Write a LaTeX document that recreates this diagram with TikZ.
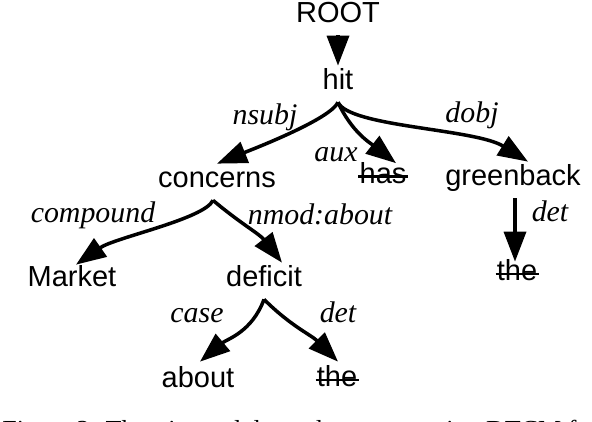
\documentclass[tikz,border=0pt]{standalone}
\usepackage{fontspec}
\setmainfont{Liberation Serif}
\setsansfont{Liberation Sans}
\usetikzlibrary{arrows.meta,calc}

\begin{document}
\begin{tikzpicture}[x=0.02cm, y=0.02cm,
  word/.style={font=\sffamily\fontsize{16.5}{18}\selectfont, inner sep=0pt,
    anchor=base, text height=0.48cm, text depth=0.24cm},
  rel/.style={font=\itshape\fontsize{17}{19}\selectfont, inner sep=0pt, anchor=base},
  dep/.style={line width=2pt, -{Triangle[length=0.6cm, width=0.44cm]}},
  cut/.style={line width=1.2pt}]
  \useasboundingbox (0,0) rectangle (592,422);

  % words of the tree
  \node[word] (root) at (338,399) {ROOT};
  \node[word] (hit) at (338,332) {hit};
  \node[word] (concerns) at (217,234) {concerns};
  \node[word] (has) at (383,238.5) {has};
  \node[word] (greenback) at (513,236) {greenback};
  \node[word] (market) at (72,135) {Market};
  \node[word] (deficit) at (264,135) {deficit};
  \node[word] (the1) at (517,141) {the};
  \node[word] (about) at (198,34) {about};
  \node[word] (the2) at (337,35) {the};

  % trimmed words are struck out
  \draw[cut] ($(has.base west)+(-1,7)$) -- ($(has.base east)+(1,7)$);
  \draw[cut] ($(the1.base west)+(-1,7)$) -- ($(the1.base east)+(1,7)$);
  \draw[cut] ($(the2.base west)+(-1,7)$) -- ($(the2.base east)+(1,7)$);

  % dependencies
  \draw[dep] (root.south) -- (hit.north);
  \draw[dep] (hit.south) to[out=245, in=22, out looseness=0.35, in looseness=0.8] (concerns.north);
  \draw[dep] (hit.south) to[out=-65, in=142] ($(has.north)+(13,-4)$);
  \draw[dep] (hit.south) to[out=-65, in=148, out looseness=0.35, in looseness=0.8] ($(greenback.north)+(15,0)$);
  \draw[dep] ($(concerns.south)+(-4,0)$) to[out=245, in=35, out looseness=0.35, in looseness=0.8] ($(market.north)+(4,-2)$);
  \draw[dep] ($(concerns.south)+(-4,0)$) to[out=-40, in=128] ($(deficit.north)+(18,0)$);
  \draw[dep] ($(greenback.south)+(2,0)$) -- ($(the1.north)+(-2,-5)$);
  \draw[dep] (deficit.south) to[out=250, in=40] ($(about.north)+(2,2)$);
  \draw[dep] (deficit.south) to[out=-45, in=135] ($(the2.north)+(1,1)$);

  % relation labels
  \node[rel] (nsubj) at (265,297) {nsubj};
  \node[rel] (aux) at (336,260) {aux};
  \node[rel] (dobj) at (472,299) {dobj};
  \node[rel] (compound) at (93,199) {compound};
  \node[rel] (nmod) at (320,197) {nmod:about};
  \node[rel] (det1) at (550,200) {det};
  \node[rel] (case) at (197,99) {case};
  \node[rel] (det2) at (338,99) {det};

  % caption, cut off by the lower edge
  \begin{scope}
    \clip (0,0) rectangle (592,422);
    \node[anchor=base west, inner sep=0pt, font=\fontsize{14.8}{17}\selectfont]
      (caption) at (2,-17) {Figure 3: The trimmed dependency tree using DTCM for};
  \end{scope}
\end{tikzpicture}
\end{document}
